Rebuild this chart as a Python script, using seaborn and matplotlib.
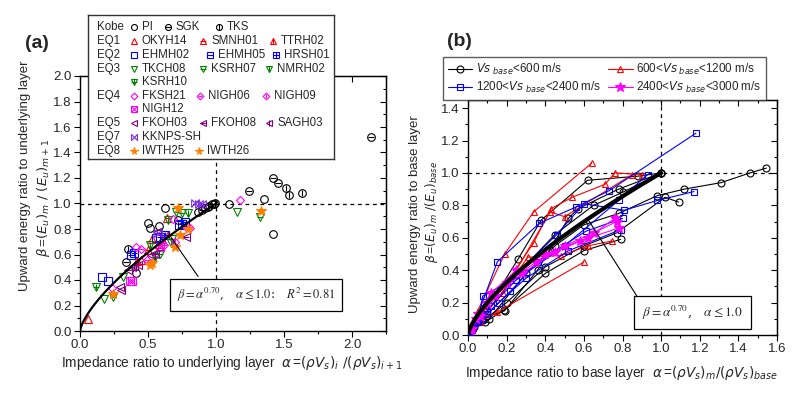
import matplotlib
matplotlib.use('Agg')
import matplotlib.pyplot as plt
from matplotlib.lines import Line2D
from matplotlib.ticker import MultipleLocator, NullFormatter
import numpy as np
import seaborn as sns

# ---------------- (a) punkty pomiarowe: alpha_i, beta_m dla kazdej stacji ----------------
a_groups = ['Kobe', 'EQ1', 'EQ2', 'EQ3', '', 'EQ4', '', 'EQ5', 'EQ7', 'EQ8']
a_rows = [['PI', 'SGK', 'TKS'],
          ['OKYH14', 'SMNH01', 'TTRH02'],
          ['EHMH02', 'EHMH05', 'HRSH01'],
          ['TKCH08', 'KSRH07', 'NMRH02'],
          ['KSRH10'],
          ['FKSH21', 'NIGH06', 'NIGH09'],
          ['NIGH12'],
          ['FKOH03', 'FKOH08', 'SAGH03'],
          ['KKNPS-SH'],
          ['IWTH25', 'IWTH26']]

a_alpha = {
    'PI': [0.41, 0.50, 0.513, 0.581, 0.625, 0.867, 0.916, 0.952, 0.972, 1.094, 1.35, 1.42],
    'SGK': [0.337, 0.72, 0.899, 0.982, 1.24, 1.416, 1.453, 2.14],
    'TKS': [0.354, 0.94, 0.991, 1.514, 1.538, 1.63],
    'OKYH14': [0.061, 0.452, 0.532, 0.59],
    'SMNH01': [0.64, 0.50, 0.58],
    'TTRH02': [0.42, 0.60, 0.65],
    'EHMH02': [0.164, 0.203, 0.562, 0.728],
    'EHMH05': [0.374, 0.586, 0.769],
    'HRSH01': [0.396, 0.623, 0.75],
    'TKCH08': [0.178, 0.313, 0.679, 1.155],
    'KSRH07': [0.239, 0.586, 0.708, 0.752, 1.32],
    'NMRH02': [0.518, 0.647, 0.672, 0.793],
    'KSRH10': [0.117, 0.55],
    'FKSH21': [0.232, 0.415, 0.684, 1.18],
    'NIGH06': [0.447, 0.493, 0.618, 0.777],
    'NIGH09': [0.513, 0.806, 0.70],
    'NIGH12': [0.366, 0.38, 0.59],
    'FKOH03': [0.293, 0.30, 0.525],
    'FKOH08': [0.35, 0.38, 0.549, 0.782],
    'SAGH03': [0.40, 0.425, 0.567],
    'KKNPS-SH': [0.842, 0.874, 0.899, 0.574],
    'IWTH25': [0.239, 0.518, 0.72, 0.733, 1.333],
    'IWTH26': [0.696, 0.793, 0.53],
}
a_beta = {
    'PI': [0.452, 0.845, 0.805, 0.824, 0.962, 0.93, 0.962, 0.98, 0.996, 0.996, 1.035, 0.758],
    'SGK': [0.544, 0.871, 0.949, 1.0, 1.10, 1.20, 1.16, 1.52],
    'TKS': [0.64, 0.97, 1.006, 1.12, 1.07, 1.08],
    'OKYH14': [0.092, 0.557, 0.719, 0.66],
    'SMNH01': [0.889, 0.635, 0.68],
    'TTRH02': [0.55, 0.72, 0.75],
    'EHMH02': [0.426, 0.395, 0.727, 0.831],
    'EHMH05': [0.596, 0.74, 0.857],
    'HRSH01': [0.609, 0.753, 0.84],
    'TKCH08': [0.249, 0.426, 0.719, 0.936],
    'KSRH07': [0.264, 0.604, 0.93, 0.923, 0.892],
    'NMRH02': [0.674, 0.871, 0.688, 0.923],
    'KSRH10': [0.342, 0.58],
    'FKSH21': [0.335, 0.661, 0.876, 1.027],
    'NIGH06': [0.641, 0.557, 0.674, 0.818],
    'NIGH09': [0.531, 0.805, 0.70],
    'NIGH12': [0.395, 0.39, 0.66],
    'FKOH03': [0.347, 0.32, 0.596],
    'FKOH08': [0.48, 0.50, 0.604, 0.74],
    'SAGH03': [0.51, 0.52, 0.779],
    'KKNPS-SH': [1.006, 1.0, 1.0, 0.766],
    'IWTH25': [0.29, 0.52, 0.962, 0.753, 0.944],
    'IWTH26': [0.661, 0.797, 0.531],
}

# ---------------- (b) profile: kazda lista to jedna stacja ----------------
b_labels = ['$Vs_{\\ base}$<600 m/s', '600<$Vs_{\\ base}$<1200 m/s',
            '1200<$Vs_{\\ base}$<2400 m/s', '2400<$Vs_{\\ base}$<3000 m/s']
b_alpha = [
    [[0.01, 0.05, 0.14, 0.26, 0.38, 0.62, 0.88, 1.0],
     [0.02, 0.07, 0.19, 0.36, 0.52, 0.57, 0.78, 1.0],
     [0.01, 0.11, 0.30, 0.45, 0.60, 0.78, 0.98, 1.12, 1.31, 1.46, 1.545],
     [0.02, 0.08, 0.20, 0.40, 0.60, 0.77, 1.02, 1.09],
     [0.03, 0.10, 0.25, 0.45, 0.65, 0.80, 1.0],
     [0.02, 0.09, 0.187, 0.40, 0.60, 0.79]],
    [[0.01, 0.05, 0.19, 0.34, 0.64],
     [0.02, 0.08, 0.20, 0.34, 0.43, 0.54, 0.71, 0.76, 0.90],
     [0.01, 0.06, 0.15, 0.60],
     [0.02, 0.09, 0.18, 0.31, 0.48, 0.62, 0.745],
     [0.02, 0.10, 0.25, 0.425, 0.50, 0.85]],
    [[0.01, 0.04, 0.152, 0.37, 0.56, 0.73, 1.18],
     [0.02, 0.06, 0.076, 0.20, 0.46, 0.60, 0.81, 0.98, 1.17],
     [0.01, 0.05, 0.12, 0.25, 0.50, 0.78, 0.93],
     [0.02, 0.07, 0.16, 0.30, 0.52, 0.79],
     [0.01, 0.03, 0.10, 0.22, 0.36, 0.61, 0.80]],
    [[0.01, 0.04, 0.10, 0.20, 0.35, 0.50, 0.65, 0.77],
     [0.02, 0.06, 0.14, 0.28, 0.45, 0.62, 0.76],
     [0.01, 0.05, 0.12, 0.25, 0.40, 0.58, 0.78]],
]
b_beta = [
    [[0.03, 0.10, 0.24, 0.47, 0.71, 0.955, 0.98, 1.0],
     [0.04, 0.10, 0.15, 0.40, 0.72, 0.78, 0.90, 1.0],
     [0.03, 0.10, 0.38, 0.55, 0.68, 0.75, 0.86, 0.90, 0.94, 1.0, 1.03],
     [0.03, 0.09, 0.20, 0.42, 0.55, 0.63, 0.85, 0.82],
     [0.05, 0.15, 0.37, 0.62, 0.80, 0.88, 1.0],
     [0.03, 0.08, 0.154, 0.38, 0.52, 0.59]],
    [[0.03, 0.15, 0.50, 0.76, 1.06],
     [0.04, 0.15, 0.32, 0.57, 0.78, 0.85, 0.93, 1.0, 0.99],
     [0.02, 0.08, 0.14, 0.45],
     [0.04, 0.13, 0.26, 0.48, 0.49, 0.55, 0.58],
     [0.05, 0.18, 0.40, 0.76, 0.73, 0.99]],
    [[0.03, 0.09, 0.452, 0.69, 0.79, 0.89, 1.245],
     [0.04, 0.13, 0.24, 0.32, 0.62, 0.81, 0.77, 0.83, 0.885],
     [0.02, 0.08, 0.18, 0.34, 0.55, 0.83, 0.99],
     [0.03, 0.10, 0.20, 0.35, 0.52, 0.65],
     [0.02, 0.06, 0.13, 0.27, 0.45, 0.64, 0.72]],
    [[0.03, 0.10, 0.20, 0.32, 0.45, 0.55, 0.63, 0.70],
     [0.04, 0.12, 0.24, 0.38, 0.51, 0.60, 0.72],
     [0.04, 0.13, 0.26, 0.40, 0.50, 0.58, 0.66]],
]
fit_exp = 0.70

# ---------------- style ----------------
RED, BLUE, GREEN, MAG, PURP, VIOL, ORNG = '#ff0000', '#0000ff', '#008000', '#ff00ff', '#800080', '#7b2fe0', '#ff8000'
bowtie = [(-1, -1), (1, 1), (1, -1), (-1, 1), (-1, -1)]
# kolor, marker, kreska w srodku, wypelniony
a_style = {
    'PI': ('black', 'o', None, False), 'SGK': ('black', 'o', '_', False), 'TKS': ('black', 'o', '|', False),
    'OKYH14': (RED, '^', None, False), 'SMNH01': (RED, '^', '_', False), 'TTRH02': (RED, '^', '|', False),
    'EHMH02': (BLUE, 's', None, False), 'EHMH05': (BLUE, 's', '_', False), 'HRSH01': (BLUE, 's', '+', False),
    'TKCH08': (GREEN, 'v', None, False), 'KSRH07': (GREEN, 'v', '_', False), 'NMRH02': (GREEN, 'v', '|', False),
    'KSRH10': (GREEN, 'v', '+', False),
    'FKSH21': (MAG, 'D', None, False), 'NIGH06': (MAG, 'D', '_', False), 'NIGH09': (MAG, 'D', '|', False),
    'NIGH12': (MAG, 's', 'x', False),
    'FKOH03': (PURP, '<', None, False), 'FKOH08': (PURP, '<', '_', False), 'SAGH03': (PURP, '<', '|', False),
    'KKNPS-SH': (VIOL, bowtie, None, False),
    'IWTH25': (ORNG, '*', None, True), 'IWTH26': (ORNG, '*', None, True),
}
b_colors = ['black', RED, BLUE, MAG]
b_markers = ['o', '^', 's', '*']

sns.set_style('ticks')
plt.rcParams['font.family'] = ['Liberation Sans', 'DejaVu Sans']
plt.rcParams['mathtext.fontset'] = 'dejavusans'


def draw_mark(ax, x, y, spec, ms=5.5, zorder=3):
    color, m, bar, filled = spec
    size = ms * 0.8 if m == 'D' else ms
    if m == '*':
        size = ms * 1.3
    ax.plot(x, y, ls='none', marker=m, ms=size, mfc=color if filled else 'none',
            mec=color, mew=0.8, zorder=zorder)
    if bar is not None:
        ax.plot(x, y, ls='none', marker=bar, ms=size * 0.85, mec=color, mew=0.8, zorder=zorder)


def style_axes(ax, xmaj, xmin, ymaj, ymin):
    ax.xaxis.set_major_locator(MultipleLocator(xmaj))
    ax.xaxis.set_minor_locator(MultipleLocator(xmin))
    ax.yaxis.set_major_locator(MultipleLocator(ymaj))
    ax.yaxis.set_minor_locator(MultipleLocator(ymin))
    ax.xaxis.set_major_formatter(plt.FormatStrFormatter('%.1f'))
    ax.yaxis.set_major_formatter(plt.FormatStrFormatter('%.1f'))
    ax.tick_params(which='both', direction='out', color='black', width=0.8, labelsize=9.5, pad=2)
    ax.tick_params(which='major', length=4)
    ax.tick_params(which='minor', length=2)
    for s in ax.spines.values():
        s.set_color('black')
        s.set_linewidth(1.0)
    sx = ax.secondary_xaxis('top')
    sx.xaxis.set_major_locator(MultipleLocator(xmaj))
    sx.xaxis.set_minor_locator(MultipleLocator(xmin))
    sx.xaxis.set_major_formatter(NullFormatter())
    sx.tick_params(which='both', direction='in', color='black', width=0.8)
    sx.tick_params(which='major', length=4)
    sx.tick_params(which='minor', length=2)
    sy = ax.secondary_yaxis('right')
    sy.yaxis.set_major_locator(MultipleLocator(ymaj))
    sy.yaxis.set_minor_locator(MultipleLocator(ymin))
    sy.yaxis.set_major_formatter(NullFormatter())
    sy.tick_params(which='both', direction='in', color='black', width=0.8)
    sy.tick_params(which='major', length=4)
    sy.tick_params(which='minor', length=2)
    for s in list(sx.spines.values()) + list(sy.spines.values()):
        s.set_color('black')


W, H = 806, 393
fig = plt.figure(figsize=(W / 100, H / 100), dpi=100)

# ================= panel (a) =================
ax = fig.add_axes([80 / W, 1 - 331 / H, 306 / W, 255 / H])
ax.set_xlim(0, 2.25)
ax.set_ylim(0, 2.0)
style_axes(ax, 0.5, 0.25, 0.2, 0.1)
ax.axhline(1.0, color='black', lw=0.9, ls=(0, (3, 3)), zorder=1)
ax.axvline(1.0, color='black', lw=0.9, ls=(0, (3, 3)), zorder=1)

for row in a_rows:
    for st in row:
        draw_mark(ax, a_alpha[st], a_beta[st], a_style[st])

alpha_fit = np.linspace(0, 1, 200)
sns.lineplot(x=alpha_fit, y=alpha_fit ** fit_exp, color='black', lw=1.6, ax=ax, zorder=4)

ax.annotate('', xy=(0.66, 0.66 ** fit_exp), xytext=(0.88, 0.41),
            arrowprops=dict(arrowstyle='-', color='black', lw=0.8))
ax.text(1.297, 0.282, r'$\beta=\alpha^{0.70}$,   $\alpha\leq1.0$:   $R^2=0.81$',
        ha='center', va='center', fontsize=9, family='serif', math_fontfamily='stix',
        bbox=dict(boxstyle='square,pad=0.55', fc='white', ec='black', lw=0.9), zorder=5)

fig.text(232 / W, 1 - 363 / H,
         r'Impedance ratio to underlying layer  $\alpha\,$=$(\rho V_s)_i\ /(\rho V_s)_{i+1}$',
         ha='center', va='center', fontsize=9.8)
fig.text(25 / W, 1 - 176 / H, 'Upward energy ratio to underlying layer',
         rotation=90, ha='center', va='center', fontsize=9.5)
fig.text(43 / W, 1 - 198 / H, r'$\beta\,$=$(E_u)_m\ /\ (E_u)_{m+1}$',
         rotation=90, ha='center', va='center', fontsize=9.5)
fig.text(37 / W, 1 - 44 / H, '(a)', ha='center', va='center', fontsize=14, fontweight='bold')

# legenda (a) rysowana recznie w osobnym oknie
lax = fig.add_axes([88 / W, 1 - 159 / H, 246 / W, 144 / H], zorder=10)
lax.set_xlim(0, 246)
lax.set_ylim(144, 0)
lax.set_xticks([])
lax.set_yticks([])
lax.set_facecolor('white')
for s in lax.spines.values():
    s.set_color('#333333')
    s.set_linewidth(1.0)
row_y = [11.7, 25.7, 40, 54, 66.7, 81, 94.3, 107.7, 121.7, 136]
row_x = [[46, 80, 131], [46, 115, 185], [46, 122, 188], [46, 115, 181], [46],
         [46, 112, 178], [46], [46, 115, 181], [46], [46, 111]]
for grp, row, yy, xs in zip(a_groups, a_rows, row_y, row_x):
    if grp:
        lax.text(9, yy, grp, ha='left', va='center', fontsize=8.3)
    for st, xx in zip(row, xs):
        draw_mark(lax, [xx], [yy], a_style[st], ms=4.3)
        lax.text(xx + 8, yy, st, ha='left', va='center', fontsize=8.3)

# ================= panel (b) =================
bx = fig.add_axes([468 / W, 1 - 335 / H, 309 / W, 235 / H])
bx.set_xlim(0, 1.6)
bx.set_ylim(0, 1.45)
style_axes(bx, 0.2, 0.1, 0.2, 0.1)
bx.axhline(1.0, color='black', lw=0.9, ls=(0, (3, 3)), zorder=1)
bx.axvline(1.0, color='black', lw=0.9, ls=(0, (3, 3)), zorder=1)

for xs_list, ys_list, c, m in zip(b_alpha, b_beta, b_colors, b_markers):
    for xs, ys in zip(xs_list, ys_list):
        sns.lineplot(x=xs, y=ys, sort=False, estimator=None, color=c, lw=0.8,
                     marker=m, ms=7 if m == '*' else 5, mfc=c if m == '*' else 'none',
                     mec=c, mew=0.8, ax=bx, zorder=3)

sns.lineplot(x=alpha_fit, y=alpha_fit ** fit_exp, color='black', lw=3, ax=bx, zorder=4)
bx.annotate('', xy=(0.62, 0.62 ** fit_exp), xytext=(0.881, 0.228),
            arrowprops=dict(arrowstyle='-', color='black', lw=0.8))
bx.text(1.163, 0.139, r'$\beta=\alpha^{0.70}$,   $\alpha\leq1.0$',
        ha='center', va='center', fontsize=9.5, family='serif', math_fontfamily='stix',
        bbox=dict(boxstyle='square,pad=0.6', fc='white', ec='black', lw=0.9), zorder=5)

handles = [Line2D([], [], color=c, lw=0.8, marker=m, ms=7 if m == '*' else 5,
                  mfc=c if m == '*' else 'none', mec=c, mew=0.8)
           for c, m in zip(b_colors, b_markers)]
order = [0, 2, 1, 3]
leg = fig.legend([handles[i] for i in order], [b_labels[i] for i in order], ncol=2,
                 loc='upper left', bbox_to_anchor=(443 / W, 1 - 57 / H), fontsize=8.4,
                 frameon=True, fancybox=False, edgecolor='#333333', handlelength=2.1,
                 columnspacing=0.6, handletextpad=0.3, borderpad=0.4, labelspacing=0.3,
                 borderaxespad=0)
leg.get_frame().set_linewidth(1.0)
leg.set_zorder(10)

fig.text(622 / W, 1 - 373 / H,
         r'Impedance ratio to base layer  $\alpha\,$=$(\rho V_s)_m/(\rho V_s)_{base}$',
         ha='center', va='center', fontsize=9.8)
fig.text(415 / W, 1 - 214 / H, 'Upward energy ratio to base layer',
         rotation=90, ha='center', va='center', fontsize=9.5)
fig.text(431 / W, 1 - 212 / H, r'$\beta\,$=$(E_u)_m\ /(E_u)_{base}$',
         rotation=90, ha='center', va='center', fontsize=8.8)
fig.text(459 / W, 1 - 41 / H, '(b)', ha='center', va='center', fontsize=14, fontweight='bold')

fig.savefig('out.png', dpi=100)
